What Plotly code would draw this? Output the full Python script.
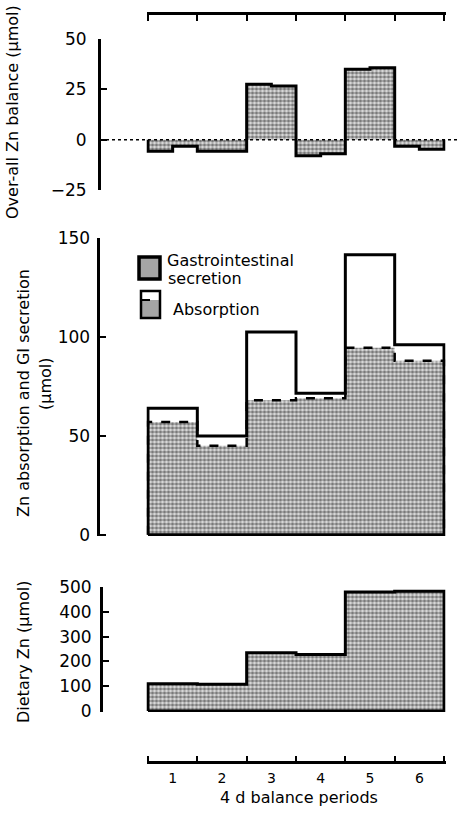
import plotly.graph_objects as go

# ---------------- data ----------------
periods = [1, 2, 3, 4, 5, 6]
period_labels = ["1", "2", "3", "4", "5", "6"]

# Over-all Zn balance (umol): first and second half of each 4 d period
balance_first_half = [-5.8, -5.8, 27.5, -8.0, 35.0, -3.3]
balance_second_half = [-3.3, -5.8, 26.7, -7.0, 35.7, -4.7]

# Zn absorption (outer outline) and GI secretion (shaded, dashed top) (umol)
absorption = [64, 50, 102.5, 71.5, 141.5, 96]
gi_secretion = [57, 45, 68, 69, 94.5, 88]

# Dietary Zn (umol)
dietary_zn = [110, 108, 235, 228, 480, 483]

balance_ticks = [-25, 0, 25, 50]
absorption_ticks = [0, 50, 100, 150]
dietary_ticks = [0, 100, 200, 300, 400, 500]

# ---------------- helpers ----------------
W, H = 458, 815
FONT = "DejaVu Sans"
px = lambda v: v / W          # pixel -> paper x
py = lambda v: 1 - v / H      # pixel -> paper y

PATTERN = dict(shape=".", size=4, solidity=0.6, fgcolor="#111111", bgcolor="#e2e2e2")


def step_path(edges, values, right_end, close=False):
    x = [edges[0]] + list(edges) + [right_end, right_end]
    y = [0] + list(values) + [values[-1], 0]
    if close:
        x.append(edges[0])
        y.append(0)
    return x, y


left_edges = [p - 0.5 for p in periods]
right_end = periods[-1] + 0.5

half_edges, half_values = [], []
for p, a, b in zip(periods, balance_first_half, balance_second_half):
    half_edges += [p - 0.5, p]
    half_values += [a, b]

fig = go.Figure()

# top panel: over-all balance
bx, by = step_path(half_edges, half_values, right_end)
fig.add_trace(go.Scatter(x=bx, y=by, mode="lines", line=dict(color="black", width=3, shape="hv"),
                         fill="tozeroy", fillcolor="rgba(0,0,0,0)", fillpattern=PATTERN,
                         xaxis="x", yaxis="y", showlegend=False, hoverinfo="skip"))

# middle panel: GI secretion (shaded) and absorption outline
sx, sy = step_path(left_edges, gi_secretion, right_end)
fig.add_trace(go.Scatter(x=sx, y=sy, mode="lines", line=dict(color="black", width=2.5, shape="hv", dash="dash"),
                         fill="tozeroy", fillcolor="rgba(0,0,0,0)", fillpattern=PATTERN,
                         xaxis="x", yaxis="y2", showlegend=False, hoverinfo="skip"))
ax_, ay_ = step_path(left_edges, absorption, right_end, close=True)
fig.add_trace(go.Scatter(x=ax_, y=ay_, mode="lines", line=dict(color="black", width=3, shape="hv"),
                         xaxis="x", yaxis="y2", showlegend=False, hoverinfo="skip"))

# bottom panel: dietary Zn
dx, dy = step_path(left_edges, dietary_zn, right_end, close=True)
fig.add_trace(go.Scatter(x=dx, y=dy, mode="lines", line=dict(color="black", width=3, shape="hv"),
                         fill="tozeroy", fillcolor="rgba(0,0,0,0)", fillpattern=PATTERN,
                         xaxis="x", yaxis="y3", showlegend=False, hoverinfo="skip"))

# dummy trace so the top decorative axis is drawn
fig.add_trace(go.Scatter(x=[None], y=[None], xaxis="x2", yaxis="y", showlegend=False))

XR = [0.47, 6.53]
XDOM = [px(146.5), px(445.5)]
boundaries = [p - 0.5 for p in periods] + [right_end]

axis_common = dict(showgrid=False, zeroline=False, showline=True, linecolor="black", linewidth=3,
                   ticks="inside", tickcolor="black", tickwidth=2, automargin=False,
                   tickfont=dict(family=FONT, size=17, color="black"))

fig.update_layout(
    width=W, height=H, autosize=False,
    margin=dict(l=0, r=0, t=0, b=0, pad=0),
    paper_bgcolor="white", plot_bgcolor="rgba(0,0,0,0)",
    font=dict(family=FONT, color="black"),
    showlegend=False,
    xaxis=dict(domain=XDOM, range=XR, anchor="free", position=py(762), automargin=False,
               showgrid=False, zeroline=False, showline=True, linecolor="black", linewidth=3,
               tickvals=periods, ticktext=period_labels, ticks="inside", ticklen=0,
               ticklabelstandoff=2,
               tickfont=dict(family=FONT, size=14, color="black"),
               minor=dict(tickvals=boundaries, ticks="inside", ticklen=5, tickwidth=2, tickcolor="black")),
    xaxis2=dict(domain=XDOM, range=XR, matches="x", overlaying="x", anchor="free", position=py(13), side="top",
                automargin=False,
                showgrid=False, zeroline=False, showline=True, linecolor="black", linewidth=3,
                tickvals=boundaries, ticks="inside", ticklen=6, tickwidth=2, tickcolor="black",
                showticklabels=False),
    yaxis=dict(domain=[py(190), py(39)], range=[-25, 50], anchor="free", position=px(99),
               tickvals=balance_ticks, ticklen=6, ticklabelstandoff=8, **axis_common),
    yaxis2=dict(domain=[py(536), py(238)], range=[-0.6, 150], anchor="free", position=px(97.5),
                tickvals=absorption_ticks, ticklen=6, ticklabelstandoff=3, **axis_common),
    yaxis3=dict(domain=[py(712), py(587)], range=[-4, 500], anchor="free", position=px(101),
                tickvals=dietary_ticks, ticklen=6, ticklabelstandoff=5, **axis_common),
)

# zero reference line in top panel
fig.add_shape(type="line", xref="paper", yref="y", x0=px(100), x1=1.0, y0=0, y1=0,
              line=dict(color="black", width=1.5, dash="dot"))

# legend drawn manually
fig.add_shape(type="rect", xref="paper", yref="paper", x0=px(139), x1=px(160), y0=py(279), y1=py(257),
              line=dict(color="black", width=3.5), fillcolor="#a5a5a5")
fig.add_shape(type="rect", xref="paper", yref="paper", x0=px(141), x1=px(160), y0=py(318), y1=py(300),
              line=dict(width=0), fillcolor="#a5a5a5")
fig.add_shape(type="rect", xref="paper", yref="paper", x0=px(141), x1=px(160), y0=py(318), y1=py(291),
              line=dict(color="black", width=2.5), fillcolor="rgba(0,0,0,0)")
fig.add_shape(type="line", xref="paper", yref="paper", x0=px(141), x1=px(160), y0=py(300), y1=py(300),
              line=dict(color="black", width=2, dash="dash"))

ann_font = dict(family=FONT, size=16, color="black")
texts = [
    ("Gastrointestinal", 165, 261, 0, "left", "middle"),
    ("secretion", 166, 278, 0, "left", "middle"),
    ("Absorption", 171, 309, 0, "left", "middle"),
    ("Over-all Zn balance (\u03bcmol)", 13, 112, -90, "center", "middle"),
    ("Zn absorption and GI secretion", 23, 393, -90, "center", "middle"),
    ("(\u03bcmol)", 46, 384, -90, "center", "middle"),
    ("Dietary Zn (\u03bcmol)", 23, 652, -90, "center", "middle"),
    ("4 d balance periods", 299, 786, 0, "center", "top"),
]
for t, x, y, ang, xa, ya in texts:
    fig.add_annotation(text=t, xref="paper", yref="paper", x=px(x), y=py(y), showarrow=False,
                       textangle=ang, xanchor=xa, yanchor=ya, font=ann_font)

fig.write_html("out.html",
               config={"displayModeBar": False, "staticPlot": True},
               post_script="document.body.style.margin='0';document.body.style.overflow='hidden';")
